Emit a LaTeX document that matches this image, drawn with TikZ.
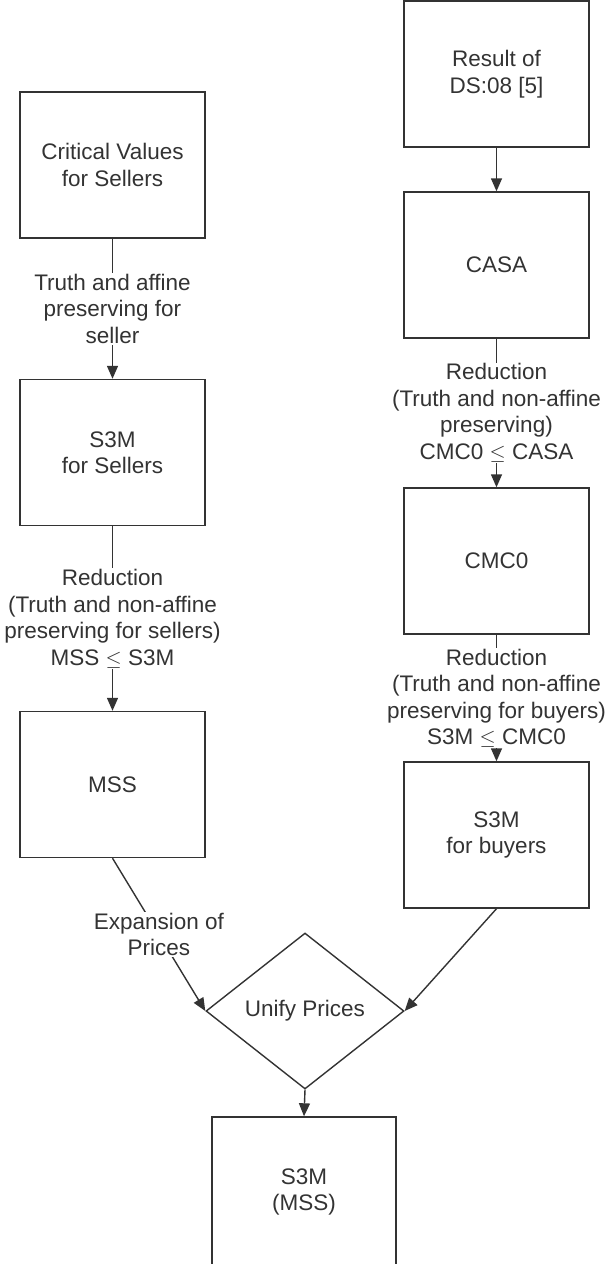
\documentclass[tikz,border=0pt]{standalone}
\usepackage{fontspec}
\setmainfont{Liberation Sans}
\usetikzlibrary{shapes.geometric,arrows.meta}
\begin{document}
\begin{tikzpicture}[x=1pt,y=-1pt,black!80,
  box/.style={draw, line width=1.4pt, minimum width=185pt, minimum height=146pt, align=center, inner sep=0pt},
  lbl/.style={fill=white, align=center, inner sep=1pt},
  arr/.style={-{Triangle[length=13pt,width=11pt]}, line width=1.4pt},
  every node/.style={font=\fontsize{22.5}{26.5}\selectfont}]
\useasboundingbox (0,0) rectangle (606,1264);
% left column
\node[box] (crit) at (112.5,165) {Critical Values\\for Sellers};
\node[box] (s3msell) at (112.5,452.5) {S3M\\for Sellers};
\node[box] (mss) at (112.5,784.5) {MSS};
% right column
\node[box] (res) at (496.5,74) {Result of\\DS:08 [5]};
\node[box] (casa) at (496.5,265) {CASA};
\node[box] (cmc) at (496.5,561) {CMC0};
\node[box] (s3mbuy) at (496.5,835) {S3M\\for buyers};
% merge
\node[diamond, draw, line width=1.4pt, minimum width=198pt, minimum height=156pt, inner sep=0pt] (unify) at (305,1011) {Unify Prices};
\node[box, minimum width=184pt, minimum height=150pt] (s3mmss) at (304,1192) {S3M\\(MSS)};
\draw[arr] (crit) -- node[lbl] {Truth and affine\\preserving for\\seller} (s3msell);
\draw[arr] (s3msell) -- node[lbl] {Reduction\\(Truth and non-affine\\preserving for sellers)\\MSS $\leq$ S3M} (mss);
\draw[arr] (res) -- (casa);
\draw[arr] (casa) -- node[lbl] {Reduction\\(Truth and non-affine\\preserving)\\CMC0 $\leq$ CASA} (cmc);
\draw[arr] (cmc) -- node[lbl] {Reduction\\(Truth and non-affine\\preserving for buyers)\\S3M $\leq$ CMC0} (s3mbuy);
\draw[arr] (mss.south) -- node[lbl] {Expansion of\\Prices} (unify.west);
\draw[arr] (s3mbuy.south) -- (unify.east);
\draw[arr] (unify.south) -- (s3mmss.north);
\end{tikzpicture}
\end{document}
